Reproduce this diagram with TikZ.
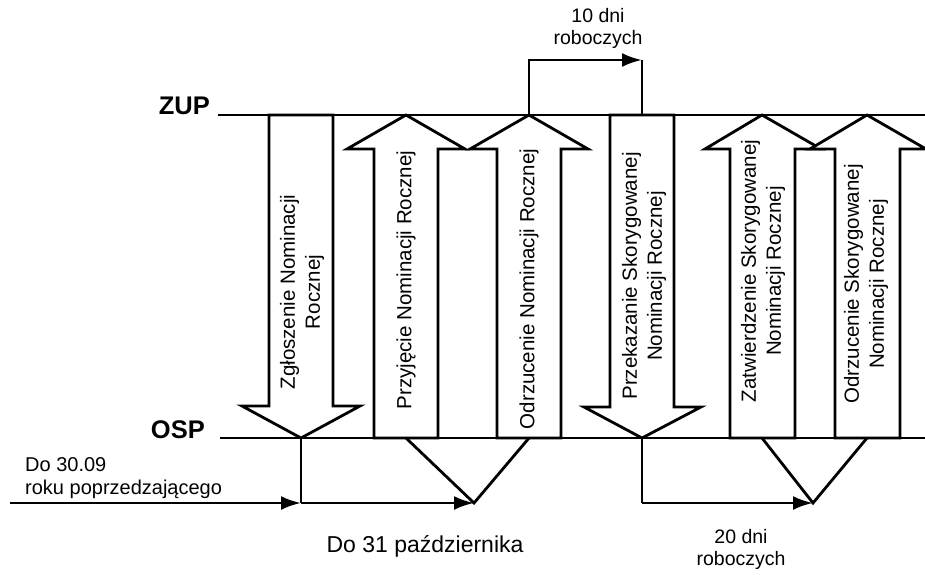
\documentclass[tikz,border=0pt]{standalone}
\usepackage{fontspec}
\setmainfont{Liberation Sans}
\usetikzlibrary{arrows.meta}
\tikzset{
  lin/.style={line width=2.8pt},
  blk/.style={line width=2.8pt, fill=white, line join=miter},
  pil/.style={line width=2.8pt, -{Latex[length=20pt,width=14pt]}},
  txt/.style={font=\fontsize{20.5}{25}\selectfont, align=center, inner sep=0pt},
  dni/.style={font=\fontsize{19.5}{22}\selectfont, align=center, inner sep=0pt},
  side/.style={font=\fontsize{25.5}{28}\selectfont\bfseries, inner sep=0pt},
}

\begin{document}
\begin{tikzpicture}[x=1pt,y=-1pt]
\useasboundingbox (0,0) rectangle (925,574);
% ZUP / OSP
\node[side, anchor=base east] (zup) at (210,114) {ZUP};
\node[side, anchor=base east] (osp) at (205,438) {OSP};
\draw[lin] (218,115) -- (925,115);
\draw[lin] (220,438) -- (925,438);
% strzalki
\draw[blk] (269,115) -- (269,406) -- (242,406) -- (301,438) coordinate (zglT) -- (360,406) -- (333,406) -- (333,115) -- cycle;
\node[txt, rotate=90] (zgl) at (302,292) {Zgłoszenie Nominacji\\Rocznej};
\draw[blk] (374,438) -- (374,149) -- (347,149) -- (406,115) coordinate (pzyT) -- (465,149) -- (438,149) -- (438,438) -- cycle;
\coordinate (pzyB) at (406,438);
\node[txt, rotate=90] (pzy) at (406,280) {Przyjęcie Nominacji Rocznej};
\draw[blk] (497,438) -- (497,149) -- (470,149) -- (529,115) coordinate (odrT) -- (588,149) -- (561,149) -- (561,438) -- cycle;
\coordinate (odrB) at (529,438);
\node[txt, rotate=90] (odr) at (529,289) {Odrzucenie Nominacji Rocznej};
\draw[blk] (610,115) -- (610,407) -- (584,407) -- (642,438) coordinate (przT) -- (701,407) -- (674,407) -- (674,115) -- cycle;
\coordinate (przB) at (642,115);
\node[txt, rotate=90] (prz) at (644,276) {Przekazanie Skorygowanej\\Nominacji Rocznej};
\draw[blk] (730,438) -- (730,149) -- (705,149) -- (762,115) coordinate (zatT) -- (821,149) -- (795,149) -- (795,438) -- cycle;
\coordinate (zatB) at (762,438);
\node[txt, rotate=90] (zat) at (763,271) {Zatwierdzenie Skorygowanej\\Nominacji Rocznej};
\draw[blk] (835,438) -- (835,149) -- (810,149) -- (867,115) coordinate (odsT) -- (926,149) -- (900,149) -- (900,438) -- cycle;
\coordinate (odsB) at (867,438);
\node[txt, rotate=90] (ods) at (866,284) {Odrzucenie Skorygowanej\\Nominacji Rocznej};
% 10 dni
\node[dni] (ten) at (598,28) {10 dni\\roboczych};
\coordinate (k1) at (642,60);
\draw[pil] (odrT) |- (k1);
\draw[lin] (k1) -- (przB);
% terminy na dole
\coordinate (s0) at (10,503);
\coordinate (d1) at (301,503);
\coordinate (v1) at (474,503);
\coordinate (d2) at (642,503);
\coordinate (v2) at (813,503);
\draw[pil] (s0) -- (d1);
\draw[lin] (zglT) -- (d1);
\draw[pil] (d1) -- (v1);
\draw[lin] (pzyB) -- (v1) -- (odrB);
\draw[lin] (przT) -- (d2);
\draw[pil] (d2) -- (v2);
\draw[lin] (zatB) -- (v2) -- (odsB);
\node[txt, anchor=west, align=left, font=\fontsize{20}{23}\selectfont] (do30) at (25,478) {Do 30.09\\roku poprzedzającego};
\node[txt, font=\fontsize{23}{26}\selectfont] (do31) at (425,546) {Do 31 października};
\node[dni] (dwa) at (741,549) {20 dni\\roboczych};
\end{tikzpicture}
\end{document}
